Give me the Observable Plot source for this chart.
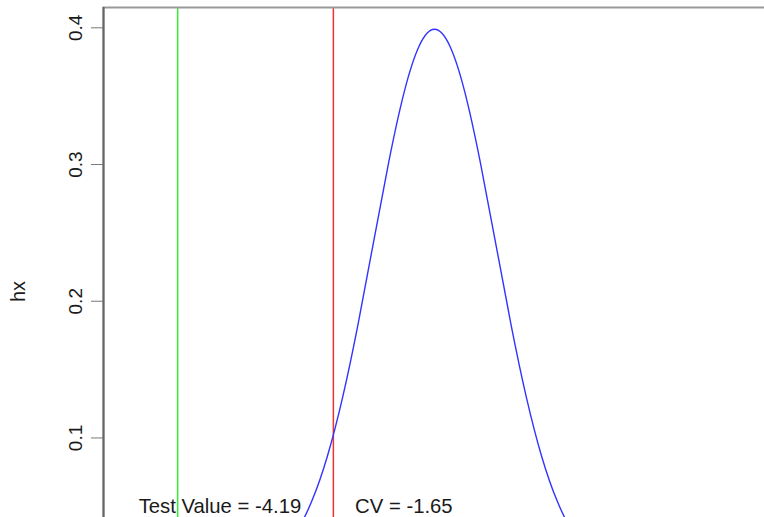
<!DOCTYPE html>
<html><head><meta charset="utf-8">
<script src="https://cdn.jsdelivr.net/npm/d3@7"></script>
<script src="https://cdn.jsdelivr.net/npm/@observablehq/plot@0.6"></script>
<style>html,body{margin:0;padding:0;overflow:hidden;background:#fff;width:764px;height:517px}
#chart svg{max-width:none !important;display:block}</style>
</head><body><div id="chart"></div><script>
// Curve (density hx against x)
const xs = [-5,-4.75,-4.5,-4.25,-4,-3.75,-3.5,-3.25,-3,-2.75,-2.5,-2.25,-2,-1.75,-1.5,-1.25,-1,-0.75,-0.5,-0.25,0,
            0.25,0.5,0.75,1,1.25,1.5,1.75,2,2.25,2.5,2.75,3,3.25,3.5,3.75,4,4.25,4.5,4.75,5];
const hx = [0.0000,0.0000,0.0000,0.0000,0.0001,0.0004,0.0009,0.0020,0.0044,0.0091,0.0175,0.0317,0.0540,0.0863,0.1295,0.1826,0.2420,0.3011,0.3521,0.3867,0.3989,
            0.3867,0.3521,0.3011,0.2420,0.1826,0.1295,0.0863,0.0540,0.0317,0.0175,0.0091,0.0044,0.0020,0.0009,0.0004,0.0001,0.0000,0.0000,0.0000,0.0000];
const testValue = -4.19;
const criticalValue = -1.65;
const labelX = [-3.5, -0.5];
const labelY = [0.05, 0.05];
const labelText = ["Test Value = -4.19", "CV = -1.65"];
const yTicks = [0.1, 0.2, 0.3, 0.4];

const curve = xs.map((x, i) => ({x, hx: hx[i]}));
const labels = labelText.map((t, i) => ({x: labelX[i], y: labelY[i], t}));
const xDomain = [-5.4, 5.4];
const yDomain = [-0.01596, 0.41486];

const chart = Plot.plot({
  width: 766,
  height: 660,
  marginLeft: 103,
  marginRight: 1,
  marginTop: 7,
  marginBottom: 64,
  x: {domain: xDomain, axis: null},
  y: {domain: yDomain},
  style: {fontFamily: "'Liberation Sans', Arial, sans-serif", fontSize: "19px", color: "#1a1a1a", background: "white", overflow: "visible", maxWidth: "none"},
  marks: [
    Plot.ruleX([testValue], {stroke: "#33ee33", strokeWidth: 1.5}),
    Plot.ruleX([criticalValue], {stroke: "#ee3333", strokeWidth: 1.5}),
    Plot.line(curve, {x: "x", y: "hx", stroke: "#3333ff", strokeWidth: 1.4, curve: "natural"}),
    Plot.text(labels, {x: "x", y: "y", text: "t", fontSize: 20.3, fill: "#1a1a1a", dy: 0}),
    Plot.frame({stroke: "#999", strokeWidth: 2}),
    Plot.ruleX([xDomain[0]], {stroke: "#666", strokeWidth: 2}),
    Plot.axisY(yTicks, {tickSize: 12, tickRotate: -90, tickPadding: 10, tickFormat: d3.format(".1f"), stroke: "#777", fontSize: 19, label: null}),
    Plot.text(["hx"], {frameAnchor: "left", rotate: -90, dx: -85, fontSize: 20, fill: "#1a1a1a"})
  ]
});
document.getElementById("chart").appendChild(chart);
</script></body></html>
